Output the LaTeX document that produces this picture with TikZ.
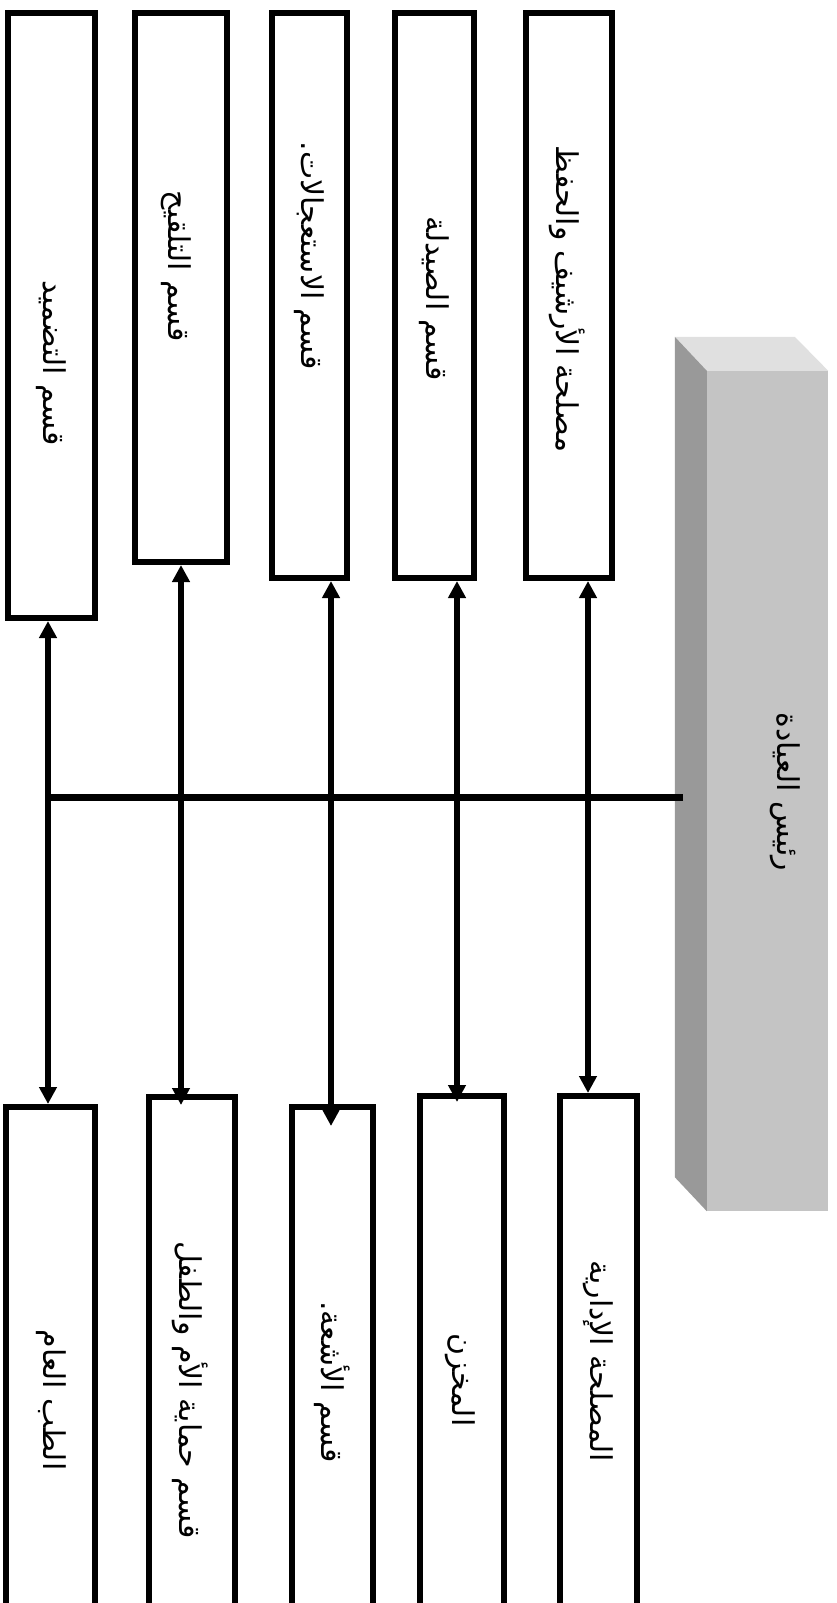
\documentclass[tikz,border=0pt]{standalone}
\usepackage{fontspec}
\newfontfamily\arabicfont[Script=Arabic]{DejaVu Sans}
\TeXXeTstate=1
\usetikzlibrary{arrows.meta,calc}
\definecolor{frontgray}{RGB}{196,196,196}
\definecolor{topgray}{RGB}{224,224,224}
\definecolor{sidegray}{RGB}{153,153,153}
\tikzset{
  deptbox/.style={draw=black, line width=6pt, fill=white, inner sep=0pt},
  lbl/.style={rotate=-90, font=\fontsize{30}{34}\selectfont\arabicfont, inner sep=0pt},
  conn/.style={line width=5.5pt, {Triangle[length=17pt,width=17pt]}-{Triangle[length=17pt,width=17pt]}},
  bus/.style={line width=7pt},
}
\begin{document}
\begin{tikzpicture}[x=1pt,y=-1pt]
\useasboundingbox (0,0) rectangle (836,1603);
\fill[white] (0,0) rectangle (836,1603);
\clip (0,0) rectangle (836,1603);

% head (3D block)
\node[fill=frontgray, inner sep=0pt, minimum width=121pt, minimum height=840pt] (head) at (767.5,791) {};
\fill[topgray] (head.north west) -- ++(-32,-34) -- ++(120,0) -- (head.north east) -- cycle;
\fill[sidegray] (head.north west) -- ++(-32,-34) -- ($(head.south west)+(-32,-34)$) -- (head.south west) -- cycle;
\node[lbl] (headtxt) at (785,792) {\beginR رئيس العيادة\endR};

% top boxes
\node[deptbox, minimum width=87pt, minimum height=605pt] (T1) at (51.5,315.5) {};
\node[deptbox, minimum width=92pt, minimum height=549pt] (T2) at (181,287.5) {};
\node[deptbox, minimum width=75pt, minimum height=565pt] (T3) at (309.5,295.5) {};
\node[deptbox, minimum width=79pt, minimum height=565pt] (T4) at (434.5,295.5) {};
\node[deptbox, minimum width=86pt, minimum height=565pt] (T5) at (569,295.5) {};

\node[lbl] (T1txt) at (51,363) {\beginR قسم التضميد\endR};
\node[lbl] (T2txt) at (176,266) {\beginR قسم التلقيح\endR};
\node[lbl] (T3txt) at (309,256) {\beginR قسم الاستعجالات.\endR};
\node[lbl] (T4txt) at (434,299) {\beginR قسم الصيدلة\endR};
\node[lbl] (T5txt) at (567,299) {\beginR مصلحة الأرشيف والحفظ\endR};

% bottom boxes
\node[deptbox, minimum width=89pt, minimum height=533pt] (B1) at (50.5,1373.5) {};
\node[deptbox, minimum width=86pt, minimum height=543pt] (B2) at (192,1368.5) {};
\node[deptbox, minimum width=81pt, minimum height=533pt] (B3) at (332.5,1373.5) {};
\node[deptbox, minimum width=84pt, minimum height=544pt] (B4) at (462,1368) {};
\node[deptbox, minimum width=77pt, minimum height=544pt] (B5) at (598.5,1368) {};

\node[lbl] (B1txt) at (51,1400) {\beginR الطب العام\endR};
\node[lbl] (B2txt) at (190,1390) {\beginR قسم حماية الأم والطفل\endR};
\node[lbl] (B3txt) at (332,1382) {\beginR قسم الأشعة.\endR};
\node[lbl] (B4txt) at (460,1380) {\beginR المخزن\endR};
\node[lbl] (B5txt) at (598,1361) {\beginR المصلحة الإدارية\endR};

% connector columns
\coordinate (v1) at (48,0);
\coordinate (v2) at (181,0);
\coordinate (v3) at (331,0);
\coordinate (v4) at (457,0);
\coordinate (v5) at (588,0);
\coordinate (busL) at (48,797);
\coordinate (busR) at (683,797);

\draw[bus] (busR) -- (busL);
\draw[conn] (T1.south -| v1) -- (B1.north -| v1);
\draw[conn] (T2.south -| v2) -- ($(B2.north -| v2)+(0,11)$);
\draw[conn] (T3.south -| v3) -- ($(B3.north -| v3)+(0,22)$);
\draw[conn] (T4.south -| v4) -- ($(B4.north -| v4)+(0,9)$);
\draw[conn] (T5.south -| v5) -- (B5.north -| v5);
\end{tikzpicture}
\end{document}
